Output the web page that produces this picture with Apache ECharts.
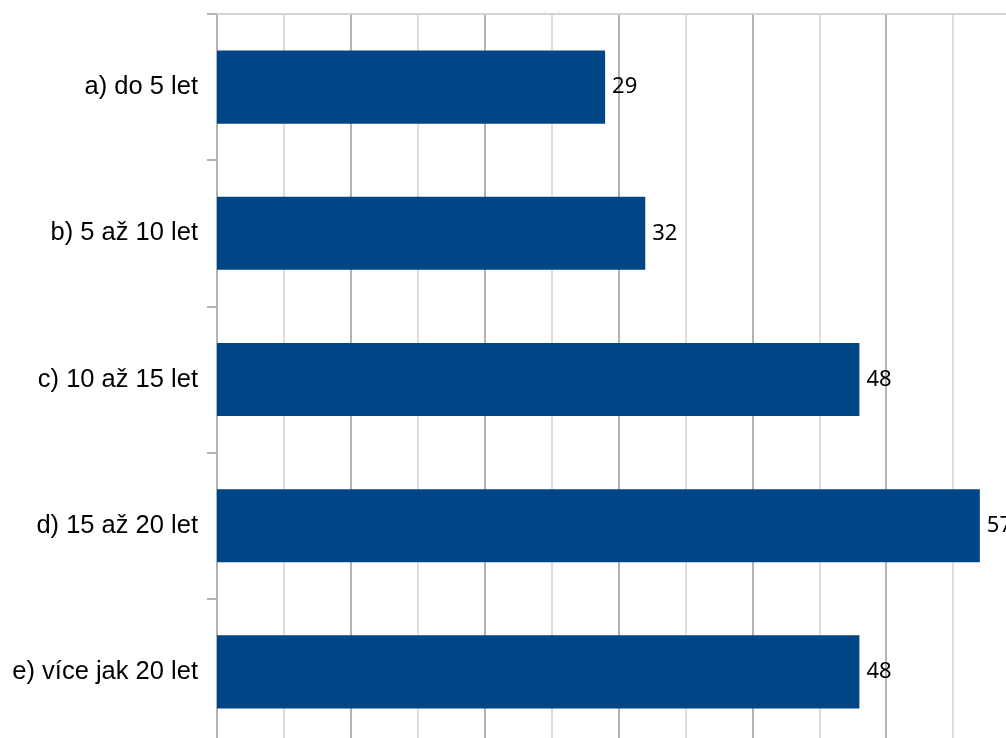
<!DOCTYPE html>
<html>
<head>
<meta charset="utf-8">
<script src="https://cdn.jsdelivr.net/npm/echarts@6/dist/echarts.min.js"></script>
<style>
  html, body { margin: 0; padding: 0; background: #ffffff; overflow: hidden; }
  #chart { width: 1006px; height: 738px; }
</style>
</head>
<body>
<div id="chart"></div>
<script>
// Length of practice groups and respondent counts
const categories = ['a) do 5 let', 'b) 5 až 10 let', 'c) 10 až 15 let', 'd) 15 až 20 let', 'e) více jak 20 let'];
const counts = [29, 32, 48, 57, 48];

const chart = echarts.init(document.getElementById('chart'), null, { renderer: 'canvas' });

chart.setOption({
  animation: false,
  backgroundColor: '#ffffff',
  // plot area runs slightly past the right and bottom edges of the canvas
  grid: {
    left: 217, top: 14, width: 803, height: 731,
    containLabel: false,
    outerBoundsMode: 'none'
  },
  xAxis: {
    type: 'value',
    position: 'top',
    min: 0,
    max: 60,
    interval: 10,
    axisLine: { show: true, lineStyle: { color: '#d4d4d4', width: 2 } },
    axisTick: { show: false },
    axisLabel: { show: false },
    splitLine: { show: true, lineStyle: { color: '#b3b3b3', width: 2 } },
    minorTick: { show: false, splitNumber: 2 },
    minorSplitLine: { show: true, lineStyle: { color: '#dddddd', width: 2 } }
  },
  yAxis: {
    type: 'category',
    data: categories,
    inverse: true,
    axisLine: { show: true, lineStyle: { color: '#b3b3b3', width: 2 } },
    axisTick: { show: true, length: 10, lineStyle: { color: '#b3b3b3', width: 2 } },
    axisLabel: {
      margin: 19,
      color: '#000000',
      fontFamily: 'Liberation Sans',
      fontSize: 25.5
    },
    splitLine: { show: false }
  },
  series: [{
    type: 'bar',
    data: counts,
    barWidth: '50%',
    itemStyle: { color: '#004586' },
    label: {
      show: true,
      position: 'right',
      distance: 7,
      color: '#000000',
      fontFamily: 'Noto Sans',
      fontSize: 22
    }
  }]
});
</script>
</body>
</html>
